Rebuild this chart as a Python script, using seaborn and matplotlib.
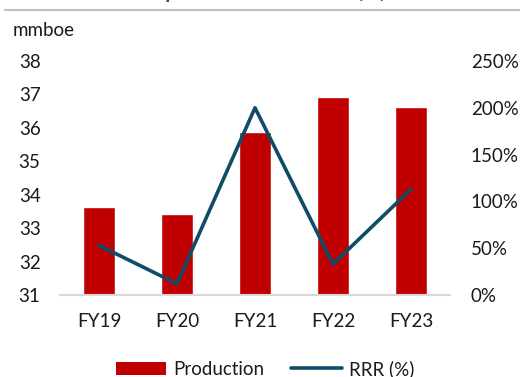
import matplotlib
matplotlib.use("Agg")
import matplotlib.pyplot as plt
from matplotlib.patches import Patch
from matplotlib.lines import Line2D
import numpy as np
import pandas as pd
import seaborn as sns

# Data
years = ["FY19", "FY20", "FY21", "FY22", "FY23"]
production = [33.64, 33.42, 35.87, 36.91, 36.61]   # mmboe
rrr = [53, 12, 200, 33, 113]                          # reserve replacement ratio, %
left_ticks = [31, 32, 33, 34, 35, 36, 37, 38]
right_ticks = [0, 50, 100, 150, 200, 250]

sns.set_theme(style="white")
plt.rcParams["font.family"] = ["Lato", "DejaVu Sans"]

BAR = "#C00000"
LINE = "#0F4C68"
TXT = "#1a1a1a"
FS = 13.5

W, H = 520, 377
fig = plt.figure(figsize=(W / 100, H / 100), dpi=100)
ax = fig.add_axes([60 / W, (H - 295) / H, 390 / W, 234 / H])

df = pd.DataFrame({"year": years, "production": production, "rrr": rrr})

sns.barplot(data=df, x="year", y="production", color=BAR, width=0.42,
            saturation=1, ax=ax)
ax.set_ylim(31, 38)
ax.set_xlim(-0.5, 4.5)
ax.set_yticks(left_ticks)
ax.set_yticklabels([str(t) for t in left_ticks])
ax.set_xlabel("")
ax.set_ylabel("")

ax2 = ax.twinx()
df["pos"] = np.arange(len(years))
sns.lineplot(data=df, x="pos", y="rrr", color=LINE, linewidth=2.6,
             sort=False, ax=ax2, legend=False)
ax2.set_ylim(0, 250)
ax2.set_xlim(-0.5, 4.5)
ax2.set_yticks(right_ticks)
ax2.set_yticklabels([f"{t}%" for t in right_ticks])
ax2.set_ylabel("")
ax2.set_xlabel("")

for a in (ax, ax2):
    for s in a.spines.values():
        s.set_visible(False)
    a.grid(False)
ax.spines["bottom"].set_visible(True)
ax.spines["bottom"].set_color("#D9D9D9")
ax.spines["bottom"].set_linewidth(1.5)

ax.tick_params(axis="y", length=0, pad=14, labelsize=FS, labelcolor=TXT)
ax.tick_params(axis="x", length=0, pad=13, labelsize=FS, labelcolor=TXT)
ax2.tick_params(axis="y", length=0, pad=15, labelsize=FS, labelcolor=TXT)
for lbl in ax2.get_yticklabels():
    lbl.set_horizontalalignment("left")

# unit label
fig.text(13 / W, 1 - 31 / H, "mmboe", fontsize=FS, color=TXT, va="center", ha="left")

# title strip (only its lowest strokes fall inside the canvas) and divider line
fig.text(0.5 - 11 / W, 1 + 2.5 / H, "Total production and RRR (%)", fontsize=15,
         fontweight="bold", color="#1F5B7F", ha="center", va="baseline")
fig.add_artist(Line2D([5 / W, 1.0], [1 - 10 / H, 1 - 10 / H],
                      transform=fig.transFigure, color="#BFBFBF", linewidth=1.5))

handles = [Patch(facecolor=BAR, edgecolor="none", label="Production"),
           Line2D([0], [0], color=LINE, linewidth=2.6, label="RRR (%)")]
fig.legend(handles=handles, loc="center", bbox_to_anchor=(265 / W, 1 - 369 / H),
           ncol=2, frameon=False, fontsize=FS, handlelength=2.7, handleheight=0.75,
           handletextpad=0.4, columnspacing=1.4, labelcolor=TXT)

fig.savefig("out.png", dpi=100)
